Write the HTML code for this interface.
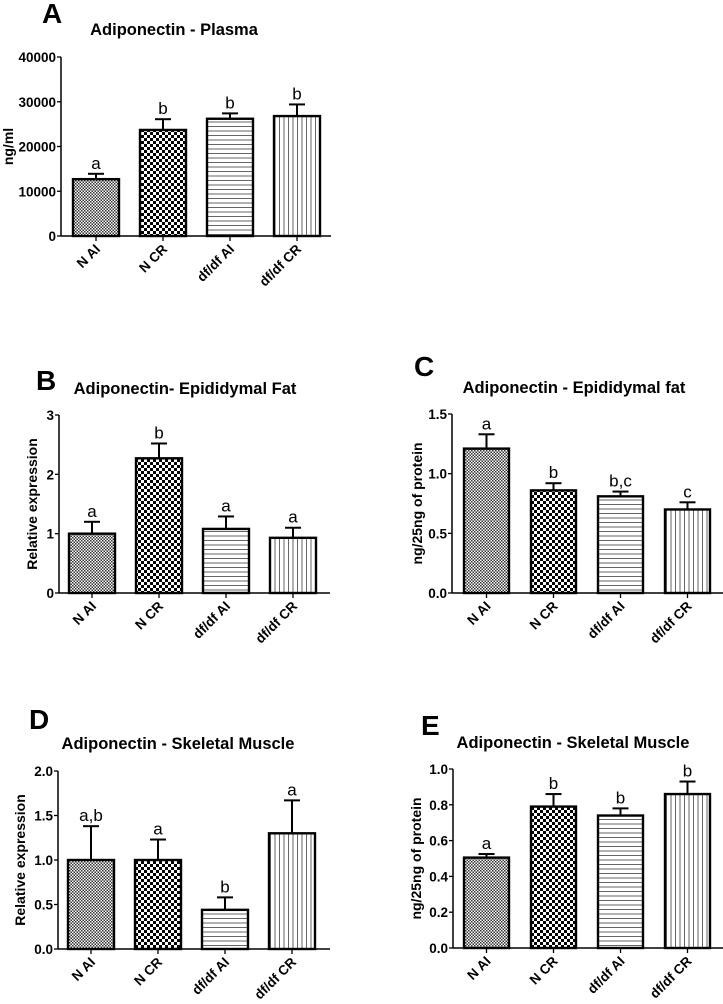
<!DOCTYPE html>
<html><head><meta charset="utf-8"><style>
body{margin:0;background:#fff;}
svg{display:block;font-family:"Liberation Sans",Arial,sans-serif;}
</style></head><body>
<svg id="fig" width="723" height="1004" viewBox="0 0 723 1004" xmlns="http://www.w3.org/2000/svg">
<defs>
<pattern id="pFine" width="3" height="3" patternUnits="userSpaceOnUse"><rect width="3" height="3" fill="#fff"/><rect width="1.5" height="1.5" fill="#333"/><rect x="1.5" y="1.5" width="1.5" height="1.5" fill="#333"/></pattern>
<pattern id="pCheck" width="6" height="6" patternUnits="userSpaceOnUse"><rect width="6" height="6" fill="#fff"/><rect width="3" height="3" fill="#000"/><rect x="3" y="3" width="3" height="3" fill="#000"/></pattern>
<pattern id="pHoriz" width="6" height="4.5" patternUnits="userSpaceOnUse"><rect width="6" height="4.5" fill="#fff"/><rect y="0" width="6" height="1" fill="#666"/></pattern>
<pattern id="pVert" width="4.5" height="6" patternUnits="userSpaceOnUse"><rect width="4.5" height="6" fill="#fff"/><rect x="0" width="1" height="6" fill="#666"/></pattern>
</defs>
</svg>
<script>
const categories = ["N AI","N CR","df/df AI","df/df CR"];
const valuesA = [12700, 23700, 26200, 26800];
const errorsA = [1200, 2400, 1200, 2600];
const lettersA = ["a","b","b","b"];
const ticksA = [0, 10000, 20000, 30000, 40000];
const valuesB = [1.0, 2.27, 1.08, 0.93];
const errorsB = [0.2, 0.25, 0.21, 0.17];
const lettersB = ["a","b","a","a"];
const ticksB = [0, 1, 2, 3];
const valuesC = [1.21, 0.86, 0.81, 0.70];
const errorsC = [0.12, 0.06, 0.04, 0.06];
const lettersC = ["a","b","b,c","c"];
const ticksC = [0.0, 0.5, 1.0, 1.5];
const valuesD = [1.0, 1.0, 0.44, 1.3];
const errorsD = [0.38, 0.23, 0.14, 0.37];
const lettersD = ["a,b","a","b","a"];
const ticksD = [0.0, 0.5, 1.0, 1.5, 2.0];
const valuesE = [0.505, 0.79, 0.74, 0.86];
const errorsE = [0.02, 0.07, 0.04, 0.07];
const lettersE = ["a","b","b","b"];
const ticksE = [0.0, 0.2, 0.4, 0.6, 0.8, 1.0];

const NS = "http://www.w3.org/2000/svg";
const svg = document.getElementById("fig");
const fills = ["url(#pFine)","url(#pCheck)","url(#pHoriz)","url(#pVert)"];
function mk(tag, attrs, parent){ const e=document.createElementNS(NS,tag); for(const k in attrs) e.setAttribute(k,attrs[k]); (parent||svg).appendChild(e); return e; }

function panel(id, cfg, values, errors, letters, ticks){
  const g = mk("g",{});
  
  
  const {ax, y0, y1, xEnd, x0b, step, bw, tickDec, title, titleX, titleY, ylabel, ylabOff, letterX, letterY} = cfg;
  const vmax = ticks[ticks.length-1];
  const ys = v => y0 - (v/vmax)*(y0-y1);
  const pl = mk("text",{x:letterX,y:letterY,"font-size":28,"font-weight":"bold"},g); pl.textContent=id;
  
  
  const t = mk("text",{x:titleX,y:titleY,"font-size":16.5,"font-weight":"bold","text-anchor":"middle"},g); t.textContent=title;
  
  
  const yl = mk("text",{x:0,y:0,"font-size":14,"font-weight":"bold","text-anchor":"middle",transform:`translate(${ax-ylabOff+5},${(y0+y1)/2}) rotate(-90)`},g); yl.textContent=ylabel;
  
  
  ticks.forEach(v=>{
    const y=ys(v);
    mk("line",{x1:ax-4,x2:ax,y1:y,y2:y,stroke:"#000","stroke-width":1.3},g);
    const tl = mk("text",{x:ax-5,y:y+5,"font-size":13.5,"font-weight":"bold","text-anchor":"end"},g);
    tl.textContent = v.toFixed(tickDec);
    
    
  });
  values.forEach((v,i)=>{
    const x = x0b + i*step, cx = x + bw/2, top = ys(v), et = ys(v+errors[i]);
    mk("line",{x1:cx,x2:cx,y1:top,y2:et,stroke:"#000","stroke-width":2},g);
    mk("line",{x1:cx-8,x2:cx+8,y1:et,y2:et,stroke:"#000","stroke-width":2},g);
    const b = mk("rect",{x:x,y:top,width:bw,height:y0-top,fill:fills[i],stroke:"#000","stroke-width":2.4},g);
    
    
    const sl = mk("text",{x:cx,y:et-5,"font-size":17,"text-anchor":"middle"},g); sl.textContent=letters[i];
    
    
    mk("line",{x1:cx,x2:cx,y1:y0,y2:y0+5,stroke:"#000","stroke-width":1.3},g);
    const xl = mk("text",{x:0,y:0,"font-size":13.5,"font-weight":"bold","text-anchor":"end",transform:`translate(${cx+5},${y0+14}) rotate(-45)`},g);
    xl.textContent=categories[i];
    
    
  });
  mk("line",{x1:ax,x2:ax,y1:y1,y2:y0,stroke:"#000","stroke-width":1.5},g);
  mk("line",{x1:ax,x2:xEnd,y1:y0,y2:y0,stroke:"#000","stroke-width":1.5},g);
}

panel("A",{ax:61,y0:236,y1:57,xEnd:331,x0b:73,step:67,bw:46,tickDec:0,title:"Adiponectin - Plasma",titleX:174,titleY:35,ylabel:"ng/ml",ylabOff:53,letterX:42,letterY:23},valuesA,errorsA,lettersA,ticksA);
panel("B",{ax:59,y0:593,y1:415,xEnd:330,x0b:69,step:67,bw:46,tickDec:0,title:"Adiponectin- Epididymal Fat",titleX:185,titleY:394,ylabel:"Relative expression",ylabOff:27,letterX:36,letterY:390},valuesB,errorsB,lettersB,ticksB);
panel("C",{ax:452,y0:593,y1:414,xEnd:723,x0b:464,step:67,bw:45,tickDec:1,title:"Adiponectin - Epididymal fat",titleX:574,titleY:393,ylabel:"ng/25ng of protein",ylabOff:35,letterX:414,letterY:376},valuesC,errorsC,lettersC,ticksC);
panel("D",{ax:58,y0:949,y1:771,xEnd:330,x0b:68,step:67,bw:46,tickDec:1,title:"Adiponectin - Skeletal Muscle",titleX:178,titleY:749,ylabel:"Relative expression",ylabOff:38,letterX:29,letterY:729},valuesD,errorsD,lettersD,ticksD);
panel("E",{ax:453,y0:948,y1:769,xEnd:723,x0b:464,step:67,bw:45,tickDec:1,title:"Adiponectin - Skeletal Muscle",titleX:573,titleY:748,ylabel:"ng/25ng of protein",ylabOff:37,letterX:421,letterY:735},valuesE,errorsE,lettersE,ticksE);
</script>
</body></html>
